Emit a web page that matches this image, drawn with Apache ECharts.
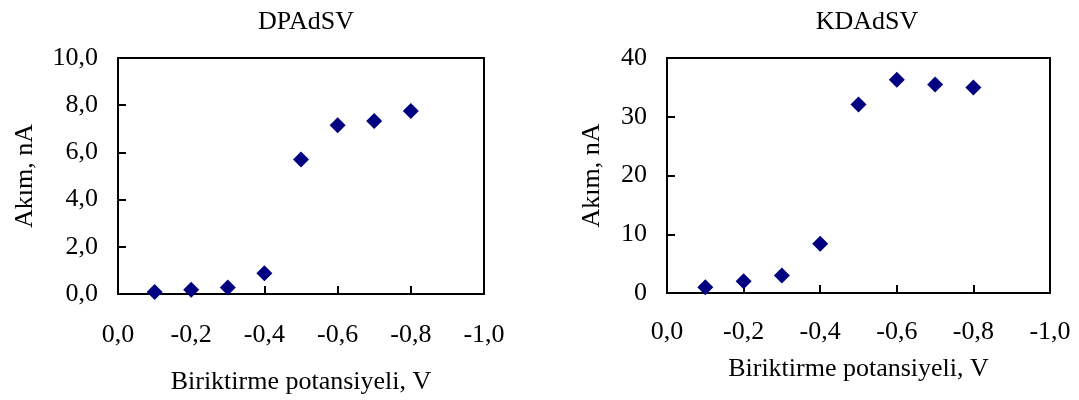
<!DOCTYPE html>
<html>
<head>
<meta charset="utf-8">
<script src="https://cdn.jsdelivr.net/npm/echarts@6/dist/echarts.min.js"></script>
<style>
html,body{margin:0;padding:0;background:#fff;}
#chart{width:1079px;height:400px;}
</style>
</head>
<body>
<div id="chart"></div>
<script>
// ---- data ----
const potentials = [-0.1, -0.2, -0.3, -0.4, -0.5, -0.6, -0.7, -0.8];
const dpCurrent = [0.08, 0.18, 0.28, 0.88, 5.7, 7.15, 7.33, 7.75];
const kdCurrent = [1.0, 2.0, 3.0, 8.4, 32.1, 36.3, 35.5, 35.0];
const xTickLabels = ['0,0', '-0,2', '-0,4', '-0,6', '-0,8', '-1,0'];
const yTickLabelsDP = ['0,0', '2,0', '4,0', '6,0', '8,0', '10,0'];
const yTickLabelsKD = ['0', '10', '20', '30', '40'];
const titles = ['DPAdSV', 'KDAdSV'];
const xName = 'Biriktirme potansiyeli, V';
const yName = 'Akım, nA';

const FONT = "'Liberation Serif', 'Times New Roman', serif";
const chart = echarts.init(document.getElementById('chart'), null, {renderer: 'canvas'});

function pairs(ys) { return potentials.map((x, i) => [x, ys[i]]); }

const grids = [
  {left: 118, top: 58, width: 366, height: 236},
  {left: 667, top: 58, width: 383, height: 235}
];

function xAxis(gi, labelMargin, nameGap) {
  return {
    type: 'value', gridIndex: gi, min: -1, max: 0, interval: 0.2, inverse: true,
    name: xName, nameLocation: 'middle', nameGap: nameGap,
    nameTextStyle: {fontFamily: FONT, fontSize: 26, color: '#000'},
    axisLine: {show: true, onZero: false, lineStyle: {color: '#000', width: 2}},
    axisTick: {show: true, inside: true, length: 8, lineStyle: {color: '#000', width: 2}},
    axisLabel: {fontFamily: FONT, fontSize: 26, color: '#000', margin: labelMargin,
      formatter: v => xTickLabels[Math.round(-v / 0.2)]},
    splitLine: {show: false}
  };
}
function yAxis(gi, max, interval, labels, nameGap) {
  return {
    type: 'value', gridIndex: gi, min: 0, max: max, interval: interval,
    name: yName, nameLocation: 'middle', nameGap: nameGap, nameRotate: 90,
    nameTextStyle: {fontFamily: FONT, fontSize: 26, color: '#000'},
    axisLine: {show: true, lineStyle: {color: '#000', width: 2}},
    axisTick: {show: true, inside: true, length: 8, lineStyle: {color: '#000', width: 2}},
    axisLabel: {fontFamily: FONT, fontSize: 26, color: '#000', margin: 20,
      formatter: v => labels[Math.round(v / interval)]},
    splitLine: {show: false}
  };
}

chart.setOption({
  animation: false,
  backgroundColor: '#fff',
  title: [
    {text: titles[0], left: 301, top: 4, textAlign: 'center',
     textStyle: {fontFamily: FONT, fontSize: 26, fontWeight: 'normal', color: '#000'}},
    {text: titles[1], left: 862, top: 4, textAlign: 'center',
     textStyle: {fontFamily: FONT, fontSize: 26, fontWeight: 'normal', color: '#000'}}
  ],
  grid: grids.map(g => Object.assign({show: true, borderColor: '#000', borderWidth: 2, backgroundColor: 'transparent'}, g)),
  xAxis: [xAxis(0, 28, 75), xAxis(1, 26, 63)],
  yAxis: [yAxis(0, 10, 2, yTickLabelsDP, 80), yAxis(1, 40, 10, yTickLabelsKD, 62)],
  series: [
    {type: 'scatter', xAxisIndex: 0, yAxisIndex: 0, data: pairs(dpCurrent),
     symbol: 'diamond', symbolSize: [16, 16], itemStyle: {color: '#000080', opacity: 1}},
    {type: 'scatter', xAxisIndex: 1, yAxisIndex: 1, data: pairs(kdCurrent),
     symbol: 'diamond', symbolSize: [16, 16], itemStyle: {color: '#000080', opacity: 1}}
  ]
});
</script>
</body>
</html>
